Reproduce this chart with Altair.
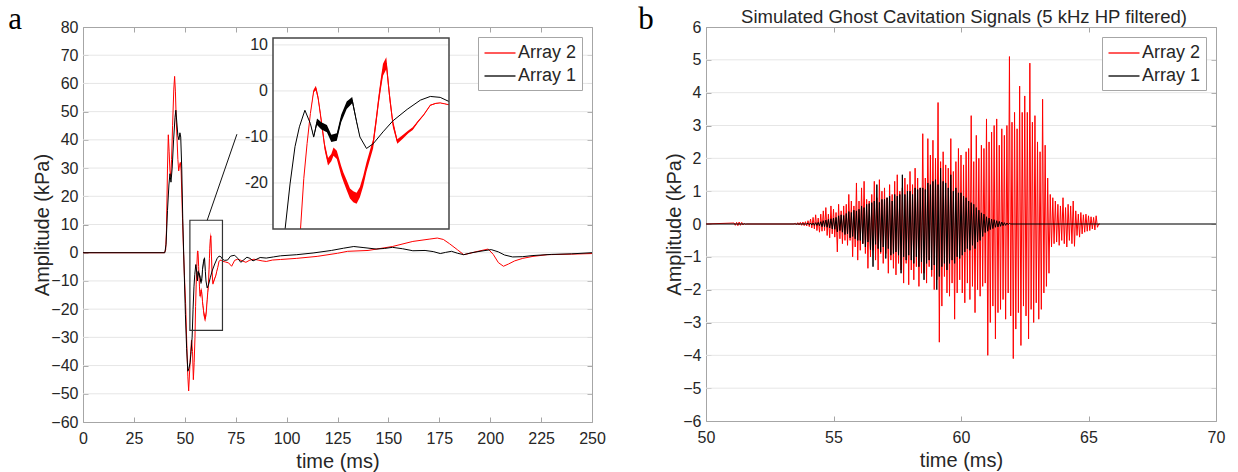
import altair as alt
import pandas as pd

FONT = "Liberation Sans"
SERIF = "Liberation Serif"
TXT = "#262626"
FRAME = "#a6a6a6"
GRID = "#e6e6e6"
RED = "#ff0000"
BLK = "#000000"

# ======================= panel a : data (time ms, kPa) =======================
# Array 2 (red)
a2_pre_t = [0, 40.0, 40.6, 41.0, 41.5, 41.9, 42.3, 42.7, 43.1, 43.5, 44.0, 44.6, 45.0, 45.4, 45.8,
            46.2, 46.6, 47.0, 47.4, 47.8, 48.2, 48.8, 49.3, 49.8, 50.4, 51.0, 51.5, 51.9, 52.3, 52.8,
            53.3, 53.8, 54.2, 54.6]
a2_pre_v = [0, 0, 1, 8, 30, 41.8, 36, 29, 27, 33, 45, 58, 62.5, 57, 47,
            40, 33, 29, 31, 32, 29, 14, 2, -8, -18, -33, -44, -49, -43, -36,
            -31, -35, -45, -39]
a2_zoom_t = [55.0, 55.3, 55.6, 55.9, 56.2, 56.4, 56.6, 56.8, 57.0, 57.2, 57.5, 57.8, 58.0, 58.3, 58.7,
             58.9, 59.2, 59.5, 59.8, 60.1, 60.4, 60.7, 61.0, 61.3, 61.6, 61.9, 62.1, 62.3, 62.5, 62.8,
             63.1, 63.4, 63.8, 64.3, 64.8, 65.2, 65.7, 66.2, 66.8, 67.3, 67.7, 68.1, 68.5]
a2_zoom_v = [-30, -19, -11.4, -4.9, 0.0, 0.6, -1.5, -4.9, -8.5, -12.1, -15.4, -14.5, -13.2, -13.9, -17.3,
             -18.7, -20.5, -22.3, -23.0, -23.3, -22.0, -19.6, -16.5, -14.0, -11.5, -6.0, -2.0, 1.5, 4.6, 6.0,
             -1.2, -7.1, -11.0, -10.0, -8.9, -8.2, -6.6, -5.2, -3.1, -2.7, -2.6, -2.8, -3.0]
a2_zoom_noise = [0, 0, 0, 0, 0.3, 0.5, 0.5, 0.6, 0.7, 0.8, 0.8, 0.8, 0.9, 0.9, 1.0,
                 1.0, 1.1, 1.1, 1.2, 1.2, 1.1, 1.1, 1.0, 1.0, 1.0, 1.1, 1.1, 1.2, 1.3, 1.3,
                 1.1, 0.8, 0.5, 0.4, 0.3, 0.3, 0.2, 0.15, 0.1, 0.1, 0.05, 0.05, 0]
a2_post_t = [70.0, 71.5, 73.0, 74.5, 76.0, 78, 80, 82, 84, 86, 88, 90, 93, 97, 105,
             115, 125, 130, 140, 152, 162, 170, 174, 177, 180, 184, 187, 190, 194, 199,
             201.5, 204, 206.5, 209, 212, 216, 221, 228, 240, 250]
a2_post_v = [-3.3, -3.6, -4.8, -2.7, -2.3, -2.8, -3.4, -2.6, -2.3, -2.6, -2.9, -3.1, -2.6, -2.4, -2.0,
             -1.3, -0.2, 0.5, 0.8, 2.2, 4.0, 4.8, 5.2, 4.7, 3.2, 1.0, -0.7, -0.2, 0.5, 1.3,
             -0.6, -3.5, -4.8, -4.0, -2.9, -2.0, -1.3, -0.7, -0.5, -0.3]

# Array 1 (black)
a1_pre_t = [0, 40.2, 40.8, 41.5, 42.2, 42.7, 43.2, 43.8, 44.5, 45.2, 45.6, 46.1, 46.6, 47.1, 47.6,
            48.0, 48.5, 49.0, 49.6, 50.3, 50.9, 51.5, 52.0, 52.6, 53.1]
a1_pre_v = [0, 0, 3, 15, 24, 28, 25, 30, 40, 48, 50.5, 46, 41.5, 40, 42.5,
            41, 30, 12, -4, -22, -34, -42, -41, -39, -35]
a1_zoom_t = [53.6, 54.05, 54.5, 54.9, 55.4, 55.9, 56.2, 56.5, 56.9, 57.4, 57.8, 58.3, 58.7, 59.2, 59.7,
             60.1, 60.4, 61.0, 61.6, 62.5, 63.4, 64.7, 65.9, 66.8, 67.7, 68.5]
a1_zoom_v = [-30, -20.2, -12.1, -7.8, -4.2, -7.1, -10.0, -6.7, -7.6, -8.2, -10.3, -10.0, -6.0, -3.1, -2.0,
             -6.7, -10.0, -12.5, -11.5, -8.9, -6.5, -4.0, -2.0, -1.2, -1.4, -2.3]
a1_zoom_noise = [0, 0, 0, 0, 0, 0, 0.2, 0.7, 0.8, 0.8, 0.8, 0.8, 0.8, 0.8, 0.7,
                 0.3, 0, 0, 0, 0, 0, 0, 0, 0, 0, 0]
a1_post_t = [69.5, 71.0, 72.5, 74.5, 76.0, 77.5, 79.0, 80.5, 82.0, 83.5, 85.0, 87.0, 90.0, 93.5, 97.0,
             105, 113, 122, 128, 133, 138, 144, 148, 152, 157, 162, 168, 172, 175.5, 178,
             181, 184, 187, 191, 195, 200.5, 204, 207, 211, 216, 221, 230, 240, 250]
a1_post_v = [-2.7, -2.6, -1.2, -0.9, -2.0, -3.4, -2.5, -1.6, -2.0, -2.9, -2.4, -1.7, -1.9, -1.5, -1.1,
             -0.7, -0.1, 0.8, 1.6, 2.2, 1.8, 1.3, 1.5, 1.9, 1.4, 0.7, 0.8, 0.4, -0.3, 0.1,
             0.5, -0.2, -0.7, 0.0, 0.5, 1.1, 0.3, -0.8, -1.5, -1.4, -1.0, -0.6, -0.4, 0.0]

a_xdomain = [0, 250]
a_ydomain = [-60, 80]
a_xticks = [0, 25, 50, 75, 100, 125, 150, 175, 200, 225, 250]
a_yticks = [-60, -50, -40, -30, -20, -10, 0, 10, 20, 30, 40, 50, 60, 70, 80]

# zoom window / inset
zoom_box_t = [52.5, 68.5]
zoom_box_v = [-27.5, 11.5]
inset_tdomain = [52.5, 68.5]
inset_vdomain = [-30, 11.5]
inset_yticks = [-20, -10, 0, 10]
connector = {"t": [61.0], "v": [11.5], "t2": [75.6], "v2": [42.0]}
# inset placement inside the left plot (pixels)
INSET_X = [190, 366]
INSET_Y = [202, 11]

# ======================= panel b : data =======================
b_dt = 0.05
b2_blip_start = 51.1
b2_blip = [0.03, -0.04, 0.05, -0.05, 0.06, -0.04, 0.05, -0.03, 0.02, -0.01]
b2_start = 53.5
b2_burst = [
    0.02, -0.03, 0.04, -0.03, 0.05, -0.04, 0.06, -0.05, 0.07, -0.06,
    0.1, -0.08, 0.15, -0.12, 0.2, -0.15, 0.28, -0.2, 0.18, -0.25,
    0.3, -0.22, 0.4, -0.2, 0.5, -0.35, 0.3, -0.42, 0.55, -0.3,
    0.45, -0.4, 0.35, -0.85, 0.6, -0.45, 0.4, -0.6, 0.55, -0.5,
    0.6, -0.65, 0.9, -0.5, 0.7, -1.0, 0.55, -0.7, 1.25, -1.1,
    0.7, -0.8, 1.1, -0.6, 1.3, -0.9, 0.75, -1.35, 0.7, -1.0,
    0.9, -0.8, 1.3, -1.1, 0.8, -1.4, 1.35, -0.9, 1.0, -1.2,
    1.1, -0.9, 0.8, -1.5, 1.2, -1.1, 0.9, -1.35, 1.3, -1.55,
    1.5, -1.2, 1.0, -1.4, 1.1, -1.8, 1.4, -1.2, 1.2, -1.85,
    1.6, -1.4, 1.2, -1.7, 1.7, -1.3, 1.4, -1.9, 1.1, -1.5,
    2.75, -1.5, 1.4, -1.8, 2.6, -1.3, 2.1, -1.6, 2.55, -2.0,
    2.0, -1.7, 3.7, -3.6, 1.9, -2.5, 2.2, -1.6, 1.8, -2.1,
    1.7, -2.2, 2.6, -1.8, 1.6, -2.9, 1.9, -2.1, 2.3, -1.7,
    2.1, -2.1, 1.8, -2.4, 2.2, -1.8, 2.3, -2.3, 3.3, -1.9,
    1.9, -2.7, 2.7, -2.0, 2.0, -2.2, 2.4, -1.9, 2.3, -1.8,
    3.2, -4.0, 2.5, -3.0, 2.8, -2.5, 3.0, -3.5, 3.2, -2.7,
    2.4, -2.6, 2.9, -2.3, 2.7, -2.9, 3.0, -2.1, 5.1, -2.8,
    3.1, -4.1, 3.4, -3.2, 2.9, -2.7, 4.2, -3.7, 3.4, -2.5,
    3.9, -2.8, 3.4, -3.5, 4.9, -2.6, 3.1, -3.0, 3.3, -2.4,
    2.5, -2.9, 2.2, -2.6, 3.8, -2.1, 2.4, -1.9, 1.4, -1.5,
    0.9, -0.7, 0.8, -0.6, 0.7, -0.55, 0.6, -0.65, 0.55, -0.5,
    0.8, -0.6, 0.5, -0.7, 0.6, -0.5, 0.55, -0.6, 0.7, -0.68,
    0.4, -0.35, 0.3, -0.4, 0.35, -0.3, 0.28, -0.25, 0.3, -0.22,
    0.25, -0.2, 0.22, -0.15, 0.2, -0.18, 0.25, -0.1, 0.0, 0.0,
]
b1_start = 54.0
b1_burst = [
    0.02, -0.02, 0.03, -0.03, 0.03, -0.04, 0.04, -0.04, 0.05, -0.05,
    0.07, -0.08, 0.1, -0.08, 0.12, -0.1, 0.14, -0.12, 0.16, -0.15,
    0.18, -0.16, 0.2, -0.24, 0.25, -0.2, 0.28, -0.25, 0.26, -0.32,
    0.32, -0.3, 0.38, -0.42, 0.35, -0.38, 0.42, -0.45, 0.4, -0.5,
    0.45, -0.5, 0.55, -0.6, 0.5, -0.7, 0.6, -0.55, 0.62, -0.78,
    0.65, -1.3, 0.7, -0.62, 1.2, -0.75, 0.66, -0.85, 0.75, -0.7,
    0.75, -1.05, 0.8, -0.75, 0.85, -0.95, 0.7, -0.9, 0.9, -0.85,
    0.85, -0.95, 0.9, -1.5, 1.5, -1.0, 0.9, -1.1, 1.0, -0.95,
    1.0, -1.1, 0.9, -1.2, 1.1, -1.0, 1.05, -1.3, 1.1, -1.15,
    1.1, -1.7, 1.05, -1.2, 1.25, -1.1, 1.2, -1.4, 1.3, -1.25,
    1.35, -2.0, 1.2, -1.6, 1.7, -1.3, 1.3, -1.2, 1.25, -1.4,
    1.1, -1.2, 1.5, -1.1, 1.0, -1.2, 1.1, -1.0, 0.95, -1.05,
    0.95, -0.95, 0.85, -0.85, 0.8, -0.75, 0.7, -0.8, 0.65, -0.65,
    0.6, -0.75, 0.5, -0.55, 0.42, -0.5, 0.34, -0.38, 0.3, -0.26,
    0.22, -0.22, 0.18, -0.17, 0.15, -0.14, 0.13, -0.1, 0.1, -0.09,
    0.08, -0.07, 0.06, -0.05, 0.04, -0.04, 0.03, -0.02, 0.02, 0.0,
]
b_xdomain = [50, 70]
b_ydomain = [-6, 6]
b_xticks = [50, 55, 60, 65, 70]
b_yticks = [-6, -5, -4, -3, -2, -1, 0, 1, 2, 3, 4, 5, 6]
b_title = "Simulated Ghost Cavitation Signals (5 kHz HP filtered)"

SERIES = ["Array 2", "Array 1"]
COLORS = [RED, BLK]

# ======================= build tables =======================
def samples(start, vals):
    return [round(start + i * b_dt, 4) for i in range(len(vals))]

a2 = pd.DataFrame({"t": a2_pre_t + a2_zoom_t + a2_post_t,
                   "v": a2_pre_v + a2_zoom_v + a2_post_v, "series": "Array 2"})
a1 = pd.DataFrame({"t": a1_pre_t + a1_zoom_t + a1_post_t,
                   "v": a1_pre_v + a1_zoom_v + a1_post_v, "series": "Array 1"})
a2z = pd.DataFrame({"t": a2_zoom_t, "v": a2_zoom_v, "n": a2_zoom_noise})
a1z = pd.DataFrame({"t": a1_zoom_t, "v": a1_zoom_v, "n": a1_zoom_noise})
for d in (a2z, a1z):
    d["lo"] = d["v"] - d["n"]
    d["hi"] = d["v"] + d["n"]

b2 = pd.DataFrame({
    "t": [50.0] + samples(b2_blip_start, b2_blip) + [51.6, 53.45] + samples(b2_start, b2_burst),
    "v": [0.0] + b2_blip + [0.0, 0.0] + b2_burst, "series": "Array 2"})
b1 = pd.DataFrame({
    "t": [50.0, 53.95] + samples(b1_start, b1_burst) + [62.0, 70.0],
    "v": [0.0, 0.0] + b1_burst + [0.0, 0.0], "series": "Array 1"})

# ======================= helpers =======================
def x_axis(ticks, title):
    return alt.Axis(orient="bottom", values=ticks, title=title, domain=False, grid=False,
                    ticks=True, tickSize=5, offset=-5, tickColor=FRAME, labelPadding=8,
                    titlePadding=5, labelFontSize=16, titleFontSize=20, labelFont=FONT,
                    titleFont=FONT, titleFontWeight="normal", labelColor=TXT, titleColor=TXT,
                    labelFlush=False, labelOverlap=False)

def y_axis(ticks, title):
    return alt.Axis(orient="left", values=ticks, title=title, domain=False, grid=False,
                    ticks=True, tickSize=5, offset=-5, tickColor=FRAME, labelPadding=5,
                    titlePadding=-2, labelFontSize=16, titleFontSize=20, labelFont=FONT,
                    titleFont=FONT, titleFontWeight="normal", labelColor=TXT, titleColor=TXT,
                    labelOverlap=False)

def tick_layer(xs, ys, xt, yt):
    return alt.Chart(pd.DataFrame({"t": [xs.domain[0]], "v": [ys.domain[0]]})).mark_point(opacity=0).encode(
        x=alt.X("t:Q", scale=xs, axis=alt.Axis(orient="top", values=xt, labels=False, title=None,
                                                 domain=False, grid=False, tickSize=5, offset=-5,
                                                 tickColor=FRAME, minExtent=0)),
        y=alt.Y("v:Q", scale=ys, axis=alt.Axis(orient="right", values=yt, labels=False, title=None,
                                                 domain=False, grid=False, tickSize=5, offset=-5,
                                                 tickColor=FRAME, minExtent=0)))

def legend():
    return alt.Legend(title=None, orient="top-right", offset=10, strokeColor=FRAME, fillColor="white",
                      padding=5, labelFontSize=18, labelFont=FONT, labelColor=TXT,
                      symbolType="M-1.55,0H1.55", symbolSize=400, symbolStrokeWidth=1.3,
                      symbolOffset=6, rowPadding=3, labelOffset=7)

cscale = alt.Scale(domain=SERIES, range=COLORS)

def text_layer(txt, px, py, font, size, baseline):
    return alt.Chart(pd.DataFrame({"lab": [txt]})).mark_text(
        font=font, fontSize=size, align="center", baseline=baseline, color=TXT if font == FONT else "black"
    ).encode(x=alt.value(px), y=alt.value(py), text="lab:N")

# ======================= panel a =======================
axs = alt.Scale(domain=a_xdomain, nice=False, zero=False)
ays = alt.Scale(domain=a_ydomain, nice=False, zero=False)
AXA = x_axis(a_xticks, "time (ms)")
AYA = y_axis(a_yticks, "Amplitude (kPa)")
X0 = lambda f="t": alt.X(f + ":Q", scale=axs, axis=AXA)
Y0 = lambda f="v": alt.Y(f + ":Q", scale=ays, axis=AYA)

a_grid = alt.Chart(pd.DataFrame({"v": a_yticks[1:-1]})).mark_rule(color=GRID, strokeWidth=1).encode(y=Y0())
a_red_band = alt.Chart(a2z).mark_area(color=RED, opacity=0.9).encode(x=X0(), y=Y0("lo"), y2="hi:Q")
a_red = alt.Chart(a2).mark_line(strokeWidth=1).encode(
    x=X0(), y=Y0(), color=alt.Color("series:N", scale=cscale, legend=legend()))
a_blk_band = alt.Chart(a1z).mark_area(color=BLK, opacity=0.9).encode(x=X0(), y=Y0("lo"), y2="hi:Q")
a_blk = alt.Chart(a1).mark_line(strokeWidth=1).encode(
    x=X0(), y=Y0(), color=alt.Color("series:N", scale=cscale, legend=legend()))
a_box = alt.Chart(pd.DataFrame({"t": [zoom_box_t[0]], "t2": [zoom_box_t[1]],
                                "v": [zoom_box_v[0]], "v2": [zoom_box_v[1]]})).mark_rect(
    filled=False, stroke="#333333", strokeWidth=1.2).encode(x=X0(), x2="t2:Q", y=Y0(), y2="v2:Q")
a_conn = alt.Chart(pd.DataFrame(connector)).mark_rule(color="#111111", strokeWidth=1).encode(
    x=X0(), x2="t2:Q", y=Y0(), y2="v2:Q")
a_lab = text_layer("a", -68, 2, SERIF, 31, "alphabetic")

a_main = alt.layer(a_grid, a_red_band, a_red, a_blk_band, a_blk, a_box, a_conn, a_lab)
a_main = alt.layer(a_main, tick_layer(axs, ays, a_xticks, a_yticks)).resolve_axis(x="independent", y="independent")

# inset
ixs = alt.Scale(domain=inset_tdomain, range=INSET_X, nice=False, zero=False)
iys = alt.Scale(domain=inset_vdomain, range=INSET_Y, nice=False, zero=False)
IX = lambda f="t": alt.X(f + ":Q", scale=ixs, axis=None)
IY = lambda f="v": alt.Y(f + ":Q", scale=iys, axis=None)
ibox = pd.DataFrame({"t": [inset_tdomain[0]], "t2": [inset_tdomain[1]],
                     "v": [inset_vdomain[0]], "v2": [inset_vdomain[1]]})
i_bg = alt.Chart(ibox).mark_rect(color="white").encode(x=IX(), x2="t2:Q", y=IY(), y2="v2:Q")
i_grid = alt.Chart(pd.DataFrame({"t": [inset_tdomain[0]] * len(inset_yticks), "t2": [inset_tdomain[1]] * len(inset_yticks),
                                 "v": inset_yticks})).mark_rule(color=GRID, strokeWidth=1).encode(
    x=IX(), x2="t2:Q", y=IY())
i_lab = alt.Chart(pd.DataFrame({"t": [inset_tdomain[0]] * len(inset_yticks), "v": inset_yticks,
                                "s": [str(v) for v in inset_yticks]})).mark_text(
    align="right", baseline="middle", dx=-5, font=FONT, fontSize=16, color=TXT).encode(
    x=IX(), y=IY(), text="s:N")
i_red_band = alt.Chart(a2z).mark_area(color=RED).encode(x=IX(), y=IY("lo"), y2="hi:Q")
i_red = alt.Chart(a2z).mark_line(color=RED, strokeWidth=1).encode(x=IX(), y=IY())
i_blk_band = alt.Chart(a1z).mark_area(color=BLK).encode(x=IX(), y=IY("lo"), y2="hi:Q")
i_blk = alt.Chart(a1z).mark_line(color=BLK, strokeWidth=1).encode(x=IX(), y=IY())
i_frame = alt.Chart(ibox).mark_rect(filled=False, stroke="#444444", strokeWidth=1.5).encode(
    x=IX(), x2="t2:Q", y=IY(), y2="v2:Q")
inset = alt.layer(i_bg, i_grid, i_lab, i_red_band, i_red, i_blk_band, i_blk, i_frame)

left = alt.layer(a_main, inset).resolve_scale(x="independent", y="independent").properties(
    width=509, height=395)

# ======================= panel b =======================
bxs = alt.Scale(domain=b_xdomain, nice=False, zero=False)
bys = alt.Scale(domain=b_ydomain, nice=False, zero=False)
AXB = x_axis(b_xticks, "time (ms)")
AYB = y_axis(b_yticks, "Amplitude (kPa)")
b_grid = alt.Chart(pd.DataFrame({"v": b_yticks[1:-1]})).mark_rule(color=GRID, strokeWidth=1).encode(
    y=alt.Y("v:Q", scale=bys, axis=AYB))
b_red = alt.Chart(b2).mark_line(strokeWidth=1).encode(
    x=alt.X("t:Q", scale=bxs, axis=AXB),
    y=alt.Y("v:Q", scale=bys, axis=AYB),
    color=alt.Color("series:N", scale=cscale, legend=legend()))
b_blk = alt.Chart(b1).mark_line(strokeWidth=1).encode(
    x=alt.X("t:Q", scale=bxs, axis=AXB), y=alt.Y("v:Q", scale=bys, axis=AYB),
    color=alt.Color("series:N", scale=cscale, legend=legend()))
b_lab = text_layer("b", -60, 2, SERIF, 31, "alphabetic")
b_ttl = text_layer(b_title, 258, -10, FONT, 18.5, "middle")
b_main = alt.layer(b_grid, b_red, b_blk, b_lab, b_ttl)
right = alt.layer(b_main, tick_layer(bxs, bys, b_xticks, b_yticks)).resolve_axis(
    x="independent", y="independent").properties(width=510, height=394)

chart = alt.hconcat(left, right, spacing=31).resolve_scale(color="independent").resolve_legend(
    color="independent").configure_view(stroke=FRAME, strokeWidth=1).properties(
    padding={"left": 7, "top": 3, "right": 5, "bottom": 3})

chart.save("out.html", embed_options={"renderer": "svg", "actions": False})
